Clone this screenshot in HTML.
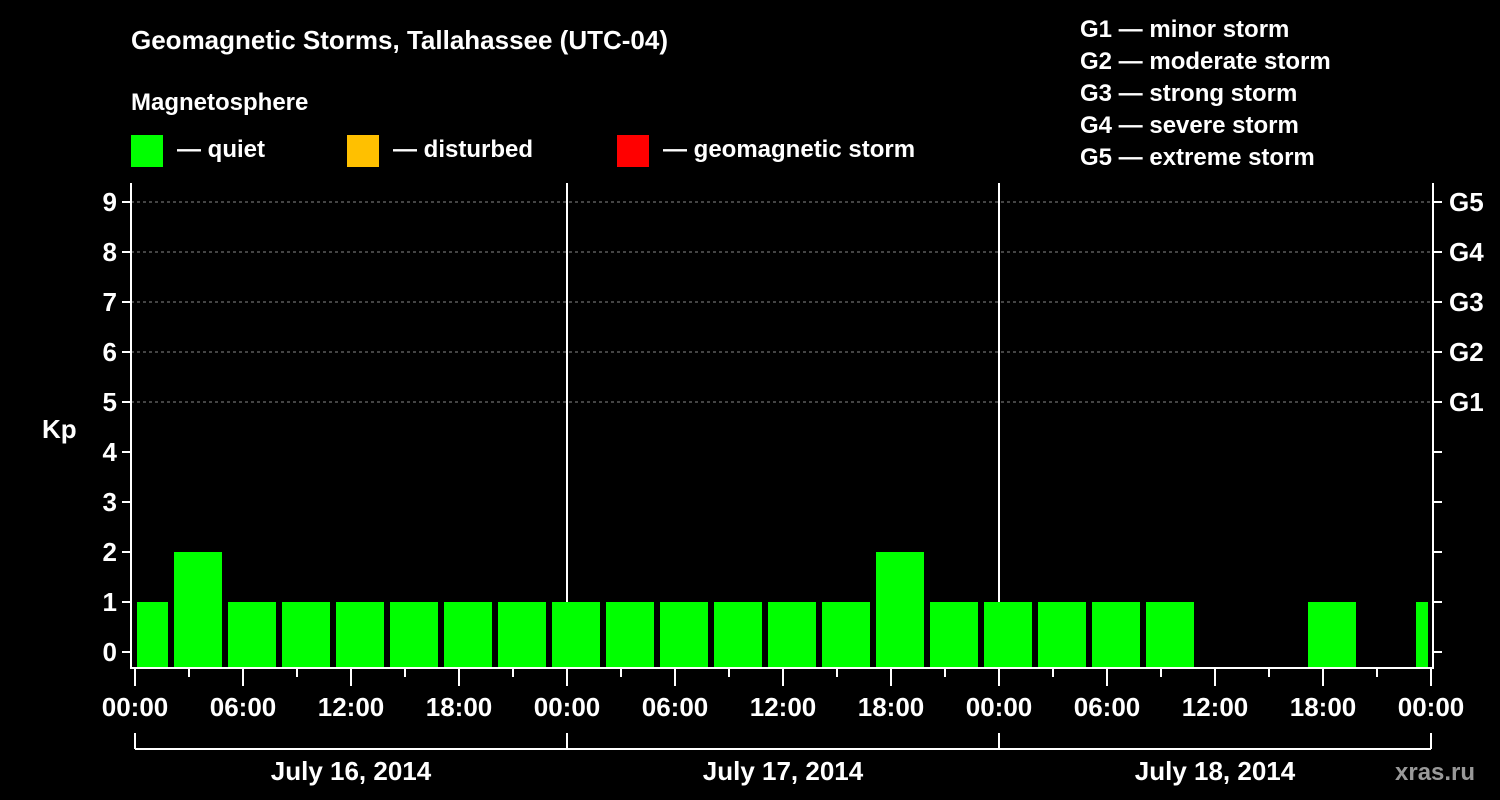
<!DOCTYPE html>
<html><head><meta charset="utf-8"><style>
body{margin:0;background:#000;}
svg{display:block;font-family:"Liberation Sans",Arial,sans-serif;font-weight:bold;}
</style></head><body>
<svg id="chart" width="1500" height="800" viewBox="0 0 1500 800">
<rect width="1500" height="800" fill="#000"/>
<text x="131" y="49" fill="#fff" font-size="26">Geomagnetic Storms, Tallahassee (UTC-04)</text>
<text x="131" y="110" fill="#fff" font-size="24">Magnetosphere</text>
<g><rect x="131" y="135" width="32" height="32" fill="#00ff00"/><text x="177" y="157" fill="#fff" font-size="24">— quiet</text></g>
<g><rect x="347" y="135" width="32" height="32" fill="#ffc000"/><text x="393" y="157" fill="#fff" font-size="24">— disturbed</text></g>
<g><rect x="617" y="135" width="32" height="32" fill="#ff0000"/><text x="663" y="157" fill="#fff" font-size="24">— geomagnetic storm</text></g>
<g fill="#fff" font-size="24">
<text x="1080" y="37">G1 — minor storm</text>
<text x="1080" y="69">G2 — moderate storm</text>
<text x="1080" y="101">G3 — strong storm</text>
<text x="1080" y="133">G4 — severe storm</text>
<text x="1080" y="165">G5 — extreme storm</text>
</g>
<g id="grid"></g>
<g id="bars"></g>
<g id="axes"></g>
<text x="42" y="438" fill="#fff" font-size="26">Kp</text>
<text x="1395" y="780" fill="#999" font-size="24">xras.ru</text>
</svg>
<script>
const kpValues=[1,2,1,1,1,1,1,1,1,1,1,1,1,1,2,1,1,1,1,1,null,null,1,null,1];
const kpTicks=[0,1,2,3,4,5,6,7,8,9];
const gLabels=["G1","G2","G3","G4","G5"];
const timeLabels=["00:00","06:00","12:00","18:00","00:00","06:00","12:00","18:00","00:00","06:00","12:00","18:00","00:00"];
const dayLabels=["July 16, 2014","July 17, 2014","July 18, 2014"];
const NS="http://www.w3.org/2000/svg";
const X0=135,PXH=18,L=131,R=1433,T=183,B=668;
const xh=h=>X0+h*PXH;
const yk=k=>652-k*50;
function mk(t,a,p){const e=document.createElementNS(NS,t);for(const k in a)e.setAttribute(k,a[k]);p.appendChild(e);return e;}
const grid=document.getElementById('grid'),bars=document.getElementById('bars'),axes=document.getElementById('axes');
for(let k=5;k<=9;k++){const l=mk('line',{x1:L,x2:R,y1:yk(k),y2:yk(k),stroke:'#888','stroke-dasharray':'3,3','stroke-width':1},grid);

}
for(let d=1;d<3;d++){const l=mk('line',{x1:xh(24*d),x2:xh(24*d),y1:T,y2:B,stroke:'#fff','stroke-width':2},grid);

}
kpValues.forEach((v,i)=>{if(v==null)return;
let x1=xh(3*i-1)+3,x2=x1+48;x1=Math.max(x1,137);x2=Math.min(x2,1428);
const c=v>=5?'#ff0000':(v>=4?'#ffc000':'#00ff00');
const r=mk('rect',{x:x1,y:yk(v),width:x2-x1,height:B-1-yk(v),fill:c},bars);

});
mk('polyline',{points:`${L},${T} ${L},${B} ${R},${B} ${R},${T}`,fill:'none',stroke:'#fff','stroke-width':2},axes);
kpTicks.forEach(k=>{const y=yk(k);
mk('line',{x1:L-9,x2:L,y1:y,y2:y,stroke:'#fff','stroke-width':2},axes);
mk('line',{x1:R,x2:R+9,y1:y,y2:y,stroke:'#fff','stroke-width':2},axes);
const t=mk('text',{x:L-14,y:y+9,fill:'#fff','font-size':26,'text-anchor':'end'},axes);t.textContent=k;

});
gLabels.forEach((g,i)=>{const t=mk('text',{x:1449,y:yk(5+i)+9,fill:'#fff','font-size':26},axes);t.textContent=g;

});
for(let h=0;h<=72;h+=3){const major=h%6===0;mk('line',{x1:xh(h),x2:xh(h),y1:B,y2:major?686:677,stroke:'#fff','stroke-width':2},axes);}
timeLabels.forEach((s,i)=>{const t=mk('text',{x:xh(6*i),y:716,fill:'#fff','font-size':26,'text-anchor':'middle'},axes);t.textContent=s;

});
mk('line',{x1:xh(0),x2:xh(72),y1:749,y2:749,stroke:'#fff','stroke-width':2},axes);
for(let d=0;d<=3;d++)mk('line',{x1:xh(24*d),x2:xh(24*d),y1:733,y2:749,stroke:'#fff','stroke-width':2},axes);
dayLabels.forEach((s,i)=>{const t=mk('text',{x:xh(24*i+12),y:780,fill:'#fff','font-size':26,'text-anchor':'middle'},axes);t.textContent=s;

});
</script>
</body></html>
